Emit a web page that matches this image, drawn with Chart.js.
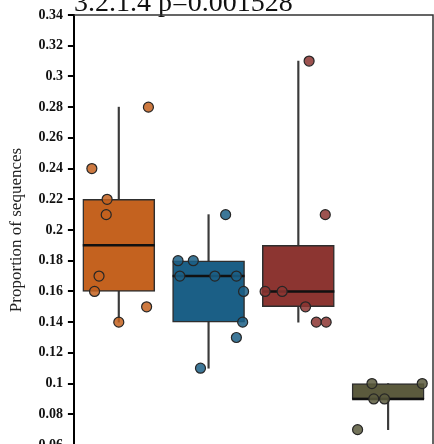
<!DOCTYPE html>
<html>
<head>
<meta charset="utf-8">
<script src="https://cdn.jsdelivr.net/npm/chart.js@4"></script>
<style>
  html, body { margin: 0; padding: 0; background: #fff; overflow: hidden; }
  #chart { position: absolute; left: 0; top: -40px; width: 434px; height: 500px; }
</style>
</head>
<body>
<canvas id="chart" width="434" height="500"></canvas>
<script>
const groups = ["g1", "g2", "g3", "g4"];
const colors = ["#c4621f", "#1b5f86", "#8c3531", "#5b5a3d"];

const boxLow = [0.16, 0.14, 0.15, 0.09];
const boxHigh = [0.22, 0.18, 0.19, 0.10];
const medians = [0.19, 0.17, 0.16, 0.09];
const whiskerLow = [0.14, 0.11, 0.14, 0.07];
const whiskerHigh = [0.28, 0.21, 0.31, 0.10];

// observations per group, with the horizontal jitter seen in the picture
const pointValues = [
  [0.28, 0.24, 0.22, 0.21, 0.17, 0.16, 0.15, 0.14],
  [0.21, 0.18, 0.18, 0.17, 0.17, 0.17, 0.16, 0.14, 0.13, 0.11],
  [0.31, 0.21, 0.16, 0.16, 0.15, 0.14, 0.14],
  [0.10, 0.10, 0.09, 0.09, 0.07]
];
const pointJitter = [
  [0.33, -0.30, -0.13, -0.14, -0.22, -0.27, 0.31, 0.0],
  [0.19, -0.34, -0.17, -0.32, 0.07, 0.31, 0.39, 0.38, 0.31, -0.09],
  [0.12, 0.30, -0.37, -0.18, 0.08, 0.20, 0.31],
  [-0.18, 0.38, -0.16, -0.04, -0.34]
];

const yTicks = [0.06, 0.08, 0.1, 0.12, 0.14, 0.16, 0.18, 0.2, 0.22, 0.24, 0.26, 0.28, 0.3, 0.32, 0.34];
const titleText = "3.2.1.4 p=0.001528";
const yTitle = "Proportion of sequences";

const serif = "'Liberation Serif', 'Times New Roman', serif";

function withAlpha(hex, a) {
  const n = parseInt(hex.slice(1), 16);
  return `rgba(${n >> 16},${(n >> 8) & 255},${n & 255},${a})`;
}

const datasets = [
  {
    type: "bar",
    data: groups.map((g, i) => ({ x: i, y: [whiskerLow[i], whiskerHigh[i]] })),
    backgroundColor: "#3a3a3a",
    barThickness: 1.5,
    grouped: false,
    order: 4
  },
  {
    type: "bar",
    data: groups.map((g, i) => ({ x: i, y: [boxLow[i], boxHigh[i]] })),
    backgroundColor: colors,
    borderColor: "#2e2e2e",
    borderWidth: 1.5,
    borderSkipped: false,
    barThickness: 72,
    grouped: false,
    order: 3
  },
  {
    type: "scatter",
    data: groups.map((g, i) => ({ x: i, y: medians[i] })),
    pointStyle: "line",
    pointRadius: 36,
    borderColor: "#111",
    borderWidth: 2.5,
    order: 2
  }
];

groups.forEach((g, i) => {
  datasets.push({
    type: "scatter",
    data: pointValues[i].map((v, k) => ({ x: i + pointJitter[i][k], y: v })),
    backgroundColor: withAlpha(colors[i], 0.85),
    borderColor: "#262626",
    borderWidth: 1.2,
    pointRadius: 5,
    order: 1
  });
});

const framePlugin = {
  id: "frame",
  afterDraw(chart) {
    const { ctx, chartArea: a } = chart;
    ctx.save();
    ctx.strokeStyle = "#333";
    ctx.lineWidth = 1.5;
    ctx.beginPath();
    ctx.moveTo(a.left, a.top);
    ctx.lineTo(a.right, a.top);
    ctx.lineTo(a.right, a.bottom);
    ctx.stroke();
    ctx.restore();
  }
};

new Chart(document.getElementById("chart"), {
  type: "bar",
  data: { datasets },
  plugins: [framePlugin],
  options: {
    responsive: false,
    devicePixelRatio: 1,
    animation: false,
    layout: { autoPadding: false, padding: { top: 27, left: 6, right: 1, bottom: 15 } },
    plugins: {
      legend: { display: false },
      tooltip: { enabled: false },
      title: {
        display: true,
        text: titleText,
        align: "start",
        fullSize: false,
        color: "#111",
        font: { family: serif, size: 28, weight: "normal", lineHeight: 1.0 },
        padding: { top: 3, bottom: -3 }
      }
    },
    scales: {
      x: {
        type: "linear",
        min: -0.5,
        max: 3.5,
        offset: false,
        display: false
      },
      y: {
        min: 0.06,
        max: 0.34,
        afterBuildTicks: scale => { scale.ticks = yTicks.map(v => ({ value: v })); },
        ticks: {
          callback: v => String(+v.toFixed(2)),
          color: "#111",
          padding: 5,
          font: { family: serif, size: 14, weight: "bold" }
        },
        grid: {
          display: true,
          drawOnChartArea: false,
          drawTicks: true,
          tickLength: 6,
          color: "#000",
          lineWidth: 2
        },
        border: { display: true, color: "#000", width: 2 },
        title: {
          display: true,
          text: yTitle,
          color: "#222",
          font: { family: serif, size: 17 },
          padding: { top: 0, bottom: 7 }
        }
      }
    }
  }
});
</script>
</body>
</html>
